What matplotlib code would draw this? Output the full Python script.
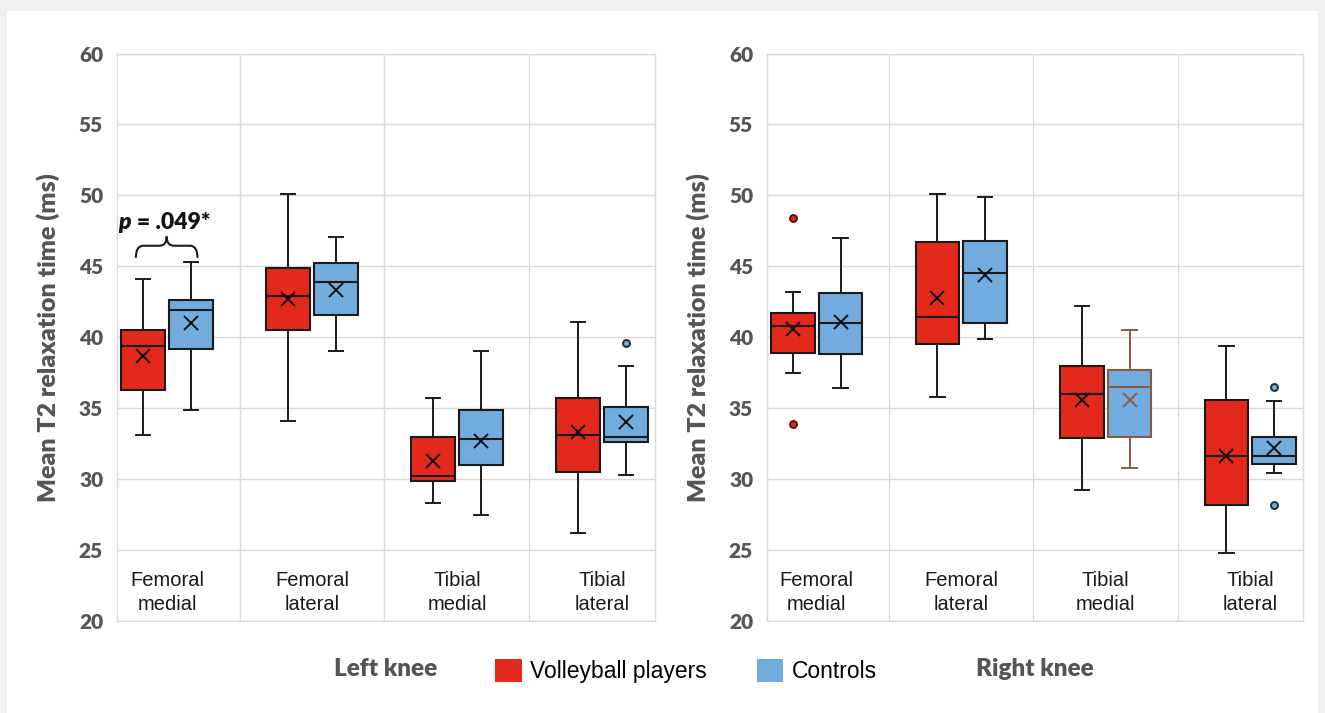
import matplotlib
matplotlib.use("Agg")
import matplotlib.pyplot as plt
from matplotlib.patches import Patch, Rectangle, PathPatch
from matplotlib.path import Path

# --- data ---
categories = ["Femoral\nmedial", "Femoral\nlateral", "Tibial\nmedial", "Tibial\nlateral"]
groups = ["Volleyball players", "Controls"]

# left knee, volleyball players
left_vb_whislo = [33.1, 34.1, 28.3, 26.2]
left_vb_q1 = [36.3, 40.5, 29.9, 30.5]
left_vb_med = [39.4, 42.9, 30.2, 33.1]
left_vb_q3 = [40.5, 44.9, 33.0, 35.7]
left_vb_whishi = [44.1, 50.1, 35.7, 41.1]
left_vb_mean = [38.7, 42.7, 31.3, 33.3]
left_vb_fliers = [[], [], [], []]

# left knee, controls
left_ct_whislo = [34.9, 39.0, 27.5, 30.3]
left_ct_q1 = [39.2, 41.6, 31.0, 32.6]
left_ct_med = [41.9, 43.9, 32.8, 33.0]
left_ct_q3 = [42.6, 45.2, 34.9, 35.1]
left_ct_whishi = [45.3, 47.1, 39.0, 38.0]
left_ct_mean = [41.0, 43.3, 32.7, 34.0]
left_ct_fliers = [[], [], [], [39.6]]

# right knee, volleyball players
right_vb_whislo = [37.5, 35.8, 29.2, 24.8]
right_vb_q1 = [38.9, 39.5, 32.9, 28.2]
right_vb_med = [40.8, 41.4, 36.0, 31.6]
right_vb_q3 = [41.7, 46.7, 38.0, 35.6]
right_vb_whishi = [43.2, 50.1, 42.2, 39.4]
right_vb_mean = [40.6, 42.8, 35.6, 31.6]
right_vb_fliers = [[48.4, 33.9], [], [], []]

# right knee, controls
right_ct_whislo = [36.4, 39.9, 30.8, 30.4]
right_ct_q1 = [38.8, 41.0, 33.0, 31.1]
right_ct_med = [41.0, 44.5, 36.5, 31.6]
right_ct_q3 = [43.1, 46.8, 37.7, 33.0]
right_ct_whishi = [47.0, 49.9, 40.5, 35.5]
right_ct_mean = [41.1, 44.4, 35.6, 32.2]
right_ct_fliers = [[], [], [], [36.5, 28.2]]

p_label = ".049*"

# --- styles ---
RED = "#e3281c"
BLUE = "#72acde"
GRID = "#d9d9d9"
TICK_GRAY = "#555555"
BOLD_FONT = ["Lato", "DejaVu Sans"]
ARIAL = ["Liberation Sans", "DejaVu Sans"]
OFFSET = 0.165
BOX_W = 0.30


def make_stats(whislo, q1, med, q3, whishi, mean, fliers):
    return [dict(whislo=a, q1=b, med=c, q3=d, whishi=e, mean=f, fliers=g)
            for a, b, c, d, e, f, g in zip(whislo, q1, med, q3, whishi, mean, fliers)]


def draw_group(ax, stats, offset, color, flier_edge):
    pos = [i + 1 + offset for i in range(len(stats))]
    return ax.bxp(stats, positions=pos, widths=BOX_W, showmeans=True,
                  patch_artist=True, capwidths=0.10,
                  boxprops=dict(facecolor=color, edgecolor="#1a1a1a", linewidth=1.5),
                  medianprops=dict(color="#1a1a1a", linewidth=1.5),
                  whiskerprops=dict(color="#1a1a1a", linewidth=1.4),
                  capprops=dict(color="#1a1a1a", linewidth=1.4),
                  meanprops=dict(marker="x", markersize=10, markeredgewidth=1.4,
                                 markeredgecolor="#111111"),
                  flierprops=dict(marker="o", markersize=5, markerfacecolor=color,
                                  markeredgecolor=flier_edge, markeredgewidth=1.4))


def style_axes(ax, knee):
    ax.set_xlim(0.655, 4.366)
    ax.set_ylim(20, 60)
    ax.set_yticks(range(20, 61, 5))
    ax.set_xticks([])
    ax.set_axisbelow(True)
    ax.grid(axis="y", color=GRID, linewidth=1.0)
    for xb in [1.5, 2.5, 3.5]:
        ax.axvline(xb, color=GRID, linewidth=1.0, zorder=0)
    for s in ax.spines.values():
        s.set_color(GRID)
        s.set_linewidth(1.0)
    ax.tick_params(axis="y", length=0, pad=10, labelcolor=TICK_GRAY)
    for lab in ax.get_yticklabels():
        lab.set_fontfamily(BOLD_FONT)
        lab.set_fontweight("heavy")
        lab.set_fontsize(15)
    ax.set_ylabel("Mean T2 relaxation time (ms)", fontsize=18, fontweight="heavy",
                  color=TICK_GRAY, family=BOLD_FONT)
    ax.yaxis.set_label_coords(-0.106, 0.5)
    for i, cat in enumerate(categories):
        ax.text(i + 1, 22.0, cat, ha="center", va="center", fontsize=14.5,
                family=ARIAL, color="#1a1a1a", linespacing=1.3)
    # knee label below the axes
    ax.text(0.5, -0.085, knee, transform=ax.transAxes,
            ha="center", va="center", fontsize=17.5, fontweight="heavy",
            color=TICK_GRAY, family=BOLD_FONT)


def draw_brace(ax, x0, x1, y_low, y_arm, y_tip):
    xm = (x0 + x1) / 2
    r = (x1 - x0) * 0.12
    verts = [(x0, y_low), (x0, y_arm), (x0 + r, y_arm), (xm - r, y_arm),
             (xm, y_arm), (xm, y_tip), (xm, y_arm), (xm + r, y_arm),
             (x1 - r, y_arm), (x1, y_arm), (x1, y_low)]
    codes = [Path.MOVETO, Path.CURVE3, Path.CURVE3, Path.LINETO,
             Path.CURVE3, Path.CURVE3, Path.CURVE3, Path.CURVE3,
             Path.LINETO, Path.CURVE3, Path.CURVE3]
    ax.add_patch(PathPatch(Path(verts, codes), facecolor="none",
                           edgecolor="#1a1a1a", linewidth=1.5, zorder=5))


fig = plt.figure(figsize=(13.25, 7.13), dpi=100, facecolor="#f0f0f0")
fig.patches.append(Rectangle((7 / 1325, 0), 1311 / 1325, 702 / 713,
                             transform=fig.transFigure, facecolor="white",
                             edgecolor="none", zorder=-10))

ax_l = fig.add_axes([117 / 1325, 1 - 621 / 713, 538 / 1325, 567.5 / 713])
ax_r = fig.add_axes([767 / 1325, 1 - 621 / 713, 536 / 1325, 567.5 / 713])

draw_group(ax_l, make_stats(left_vb_whislo, left_vb_q1, left_vb_med, left_vb_q3,
                            left_vb_whishi, left_vb_mean, left_vb_fliers),
           -OFFSET, RED, "#5a1010")
draw_group(ax_l, make_stats(left_ct_whislo, left_ct_q1, left_ct_med, left_ct_q3,
                            left_ct_whishi, left_ct_mean, left_ct_fliers),
           OFFSET, BLUE, "#1f2a44")
draw_group(ax_r, make_stats(right_vb_whislo, right_vb_q1, right_vb_med, right_vb_q3,
                            right_vb_whishi, right_vb_mean, right_vb_fliers),
           -OFFSET, RED, "#5a1010")
arts = draw_group(ax_r, make_stats(right_ct_whislo, right_ct_q1, right_ct_med, right_ct_q3,
                                   right_ct_whishi, right_ct_mean, right_ct_fliers),
                  OFFSET, BLUE, "#1f2a44")

# tibial medial controls on the right knee is outlined in brown in the original
brown = "#8a5a44"
k = 2
arts["boxes"][k].set_edgecolor(brown)
arts["medians"][k].set_color(brown)
arts["means"][k].set_markeredgecolor(brown)
for a in arts["whiskers"][2 * k:2 * k + 2] + arts["caps"][2 * k:2 * k + 2]:
    a.set_color(brown)

style_axes(ax_l, "Left knee")
style_axes(ax_r, "Right knee")

# significance brace on femoral medial, left knee
y0 = left_ct_whishi[0] + 0.3
draw_brace(ax_l, 1 - OFFSET - 0.05, 1 + OFFSET + 0.045, y0, y0 + 0.85, y0 + 1.5)
ax_l.text(0.662, y0 + 2.0, "p", fontsize=16.5, fontweight="heavy", fontstyle="italic",
          family=BOLD_FONT, va="baseline", ha="left", color="#111111")
ax_l.text(0.79, y0 + 2.0, "= " + p_label, fontsize=16.5, fontweight="heavy",
          family=BOLD_FONT, va="baseline", ha="left", color="#111111")

handles = [Patch(facecolor=RED, edgecolor="none"), Patch(facecolor=BLUE, edgecolor="none")]
fig.legend(handles, groups, loc="center", bbox_to_anchor=(686 / 1325, 1 - 671 / 713),
           ncol=2, frameon=False, prop=dict(family=ARIAL, size=16.5),
           handlelength=1.15, handleheight=1.2, handletextpad=0.35, columnspacing=2.2)

fig.savefig("out.png", dpi=100, facecolor=fig.get_facecolor())
